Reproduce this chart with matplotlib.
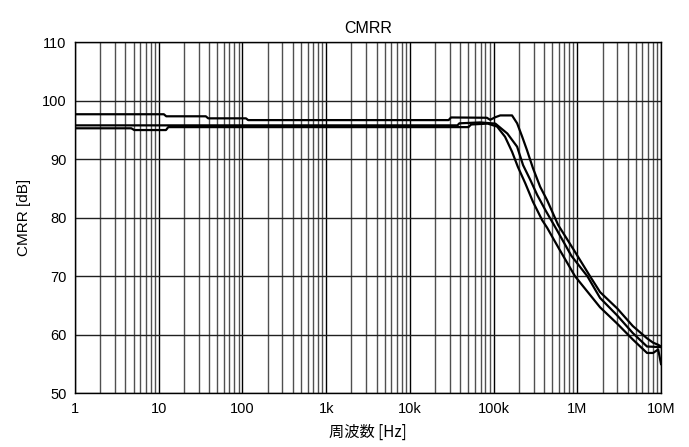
import matplotlib
matplotlib.use("Agg")
import matplotlib.pyplot as plt
from matplotlib.ticker import FixedLocator, LogLocator, NullFormatter

# ── data ──
freq_a = [1, 11.5, 12.3, 36.5, 39, 110, 117, 29e3, 31e3, 83e3, 91e3, 105e3,
          120e3, 166e3, 191e3, 219e3, 250e3, 295e3, 360e3, 436e3, 589e3,
          900e3, 1.42e6, 1.87e6, 3.0e6, 4.6e6, 6.8e6, 8.05e6, 9.25e6, 10e6]
cmrr_a = [97.7, 97.7, 97.35, 97.35, 97.0, 97.0, 96.7, 96.7, 97.15, 97.1, 96.75,
          97.2, 97.5, 97.5, 96.15, 93.9, 91.6, 88.5, 85.3, 83.0, 78.8,
          74.6, 70.0, 67.3, 64.5, 61.5, 59.4, 58.65, 58.3, 58.0]

freq_b = [1, 37e3, 39e3, 69e3, 105e3, 146e3, 191e3, 225e3, 274e3, 332e3,
          416e3, 540e3, 850e3, 1.32e6, 1.87e6, 3.0e6, 4.6e6, 6.8e6, 9.9e6, 10e6]
cmrr_b = [95.8, 95.8, 96.15, 96.3, 96.1, 94.4, 92.15, 89.0, 86.5, 83.9,
          81.3, 78.5, 73.5, 70.0, 66.3, 63.3, 60.3, 58.0, 57.9, 57.9]

freq_c = [1, 4.7, 5.1, 12.2, 13, 50e3, 54e3, 85e3, 110e3, 137e3, 166e3, 195e3,
          239e3, 295e3, 380e3, 436e3, 600e3, 940e3, 1.87e6, 3.0e6, 4.6e6,
          6.8e6, 8.05e6, 9.25e6, 10e6]
cmrr_c = [95.3, 95.3, 95.0, 95.0, 95.5, 95.5, 95.95, 96.1, 95.6, 93.85, 91.3,
          88.7, 85.9, 82.75, 79.6, 78.3, 74.8, 70.0, 64.7, 61.9, 59.2,
          56.9, 56.9, 57.5, 55.0]

x_ticks = [1, 10, 100, 1e3, 1e4, 1e5, 1e6, 1e7]
x_tick_labels = ["1", "10", "100", "1k", "10k", "100k", "1M", "10M"]
y_ticks = [50, 60, 70, 80, 90, 100, 110]

plt.rcParams["font.family"] = ["Liberation Sans", "DejaVu Sans"]

fig = plt.figure(figsize=(6.89, 4.47), dpi=100)
ax = fig.add_axes([0.1089, 0.1201, 0.8505, 0.7853])

ax.set_xscale("log")
ax.set_xlim(1, 1e7)
ax.set_ylim(50, 110)

ax.xaxis.set_major_locator(FixedLocator(x_ticks))
ax.set_xticklabels(x_tick_labels)
ax.xaxis.set_minor_locator(LogLocator(base=10, subs=range(2, 10), numticks=20))
ax.xaxis.set_minor_formatter(NullFormatter())
ax.set_yticks(y_ticks)

# grid
ax.grid(True, which="major", axis="x", color="black", lw=1.0)
ax.grid(True, which="minor", axis="x", color="#505050", lw=1.0)
ax.grid(True, which="major", axis="y", color="#202020", lw=1.0)
ax.set_axisbelow(True)

for f, c in [(freq_a, cmrr_a), (freq_b, cmrr_b), (freq_c, cmrr_c)]:
    ax.plot(f, c, color="black", lw=1.6, solid_joinstyle="round")

for s in ax.spines.values():
    s.set_color("black")
    s.set_linewidth(1.0)

ax.tick_params(which="both", length=0, labelsize=10.5, pad=6, colors="black")

ax.set_title("CMRR", fontsize=11.5, pad=7)
ax.set_ylabel("CMRR [dB]", fontsize=11, labelpad=8)
ax.set_xlabel("周波数 [Hz]", fontsize=11, labelpad=6,
              family=["Noto Sans CJK JP", "DejaVu Sans"])

fig.savefig("out.png", dpi=100, facecolor="white")
